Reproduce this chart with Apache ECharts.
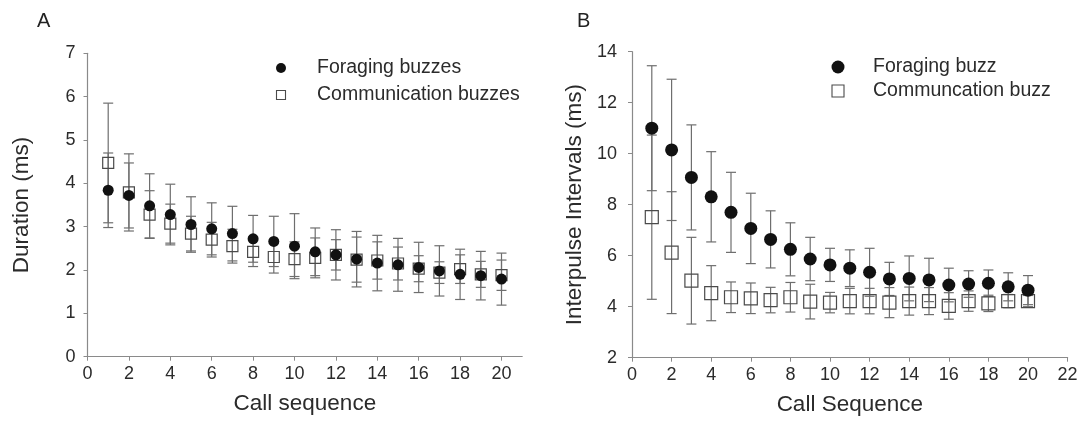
<!DOCTYPE html>
<html>
<head>
<meta charset="utf-8">
<script src="https://cdn.jsdelivr.net/npm/echarts@6/dist/echarts.min.js"></script>
<style>
  html, body { margin: 0; padding: 0; background: #ffffff; }
  #chart { width: 1084px; height: 441px; }
</style>
</head>
<body>
<div id="chart"></div>
<script>
// Call position within the buzz (1..20)
const callSequence = [1, 2, 3, 4, 5, 6, 7, 8, 9, 10, 11, 12, 13, 14, 15, 16, 17, 18, 19, 20];

// Panel A: call duration (ms), mean and SD
const durForagingMean = [3.84, 3.72, 3.48, 3.28, 3.05, 2.95, 2.84, 2.72, 2.66, 2.55, 2.42, 2.35, 2.25, 2.16, 2.12, 2.06, 1.98, 1.90, 1.87, 1.79];
const durForagingSd   = [0.86, 0.75, 0.74, 0.70, 0.64, 0.60, 0.63, 0.54, 0.58, 0.75, 0.55, 0.58, 0.64, 0.64, 0.61, 0.58, 0.58, 0.58, 0.56, 0.60];
const durCommMean     = [4.47, 3.79, 3.28, 3.07, 2.84, 2.70, 2.55, 2.42, 2.30, 2.25, 2.28, 2.35, 2.24, 2.22, 2.15, 2.03, 1.94, 2.02, 1.90, 1.88];
const durCommSd       = [1.38, 0.89, 0.55, 0.45, 0.40, 0.40, 0.39, 0.34, 0.37, 0.40, 0.46, 0.35, 0.52, 0.43, 0.38, 0.30, 0.25, 0.33, 0.30, 0.35];

// Panel B: interpulse interval (ms), mean and SD
const ipiForagingMean = [11.0, 10.15, 9.07, 8.31, 7.70, 7.07, 6.64, 6.25, 5.87, 5.64, 5.51, 5.35, 5.09, 5.11, 5.05, 4.85, 4.89, 4.92, 4.78, 4.65];
const ipiForagingSd   = [2.45, 2.77, 2.06, 1.77, 1.57, 1.38, 1.12, 1.04, 0.85, 0.65, 0.72, 0.94, 0.65, 0.88, 0.85, 0.66, 0.52, 0.52, 0.55, 0.57];
const ipiCommMean     = [7.51, 6.12, 5.02, 4.53, 4.37, 4.33, 4.26, 4.37, 4.20, 4.16, 4.22, 4.22, 4.16, 4.22, 4.22, 4.03, 4.22, 4.13, 4.22, 4.22];
const ipiCommSd       = [3.22, 2.39, 1.70, 1.08, 0.60, 0.60, 0.50, 0.58, 0.68, 0.40, 0.50, 0.50, 0.59, 0.55, 0.53, 0.52, 0.40, 0.32, 0.26, 0.22];

// Axis ranges and tick steps
const axisA = { xMin: 0, xMax: 21, xStep: 2, yMin: 0, yMax: 7, yStep: 1 };
const axisB = { xMin: 0, xMax: 22, xStep: 2, yMin: 2, yMax: 14, yStep: 2 };

// Text
const panelLabels = ['A', 'B'];
const xTitles = ['Call sequence', 'Call Sequence'];
const yTitles = ['Duration (ms)', 'Interpulse Intervals (ms)'];
const namesA = ['Foraging buzzes', 'Communication buzzes'];
const namesB = ['Foraging buzz', 'Communcation buzz'];

const FONT = "'Liberation Sans', Arial, sans-serif";
const TEXT = '#2b2b2b';
const AXIS = '#8a8a8a';
const BAR = '#6e6e6e';

const points = (means) => callSequence.map((x, i) => [x, means[i]]);
const ranges = (means, sds) => callSequence.map((x, i) => [x, means[i] - sds[i], means[i] + sds[i]]);

function errorBar(params, api) {
  const x = api.value(0);
  const lo = api.coord([x, api.value(1)]);
  const hi = api.coord([x, api.value(2)]);
  const w = 5;
  const style = { stroke: api.visual('color'), lineWidth: 1.2 };
  return {
    type: 'group',
    children: [
      { type: 'line', shape: { x1: lo[0], y1: lo[1], x2: hi[0], y2: hi[1] }, style },
      { type: 'line', shape: { x1: lo[0] - w, y1: lo[1], x2: lo[0] + w, y2: lo[1] }, style },
      { type: 'line', shape: { x1: hi[0] - w, y1: hi[1], x2: hi[0] + w, y2: hi[1] }, style }
    ]
  };
}

function xAxis(idx, a, title, showMax) {
  return {
    type: 'value', gridIndex: idx, min: a.xMin, max: a.xMax, interval: a.xStep,
    name: title, nameLocation: 'middle', nameGap: 36,
    nameTextStyle: { fontFamily: FONT, fontSize: 22.5, color: TEXT },
    axisLine: { show: true, onZero: false, lineStyle: { color: AXIS, width: 1.2 } },
    axisTick: { show: true, length: 4, lineStyle: { color: AXIS } },
    axisLabel: { fontFamily: FONT, fontSize: 18, color: TEXT, margin: 8, showMaxLabel: showMax },
    splitLine: { show: false }
  };
}

function yAxis(idx, a, title, gap, margin) {
  return {
    type: 'value', gridIndex: idx, min: a.yMin, max: a.yMax, interval: a.yStep,
    name: title, nameLocation: 'middle', nameGap: gap, nameRotate: 90,
    nameTextStyle: { fontFamily: FONT, fontSize: 22.5, color: TEXT },
    axisLine: { show: true, onZero: false, lineStyle: { color: AXIS, width: 1.2 } },
    axisTick: { show: true, length: 4, lineStyle: { color: AXIS } },
    axisLabel: { fontFamily: FONT, fontSize: 18, color: TEXT, margin: margin },
    splitLine: { show: false }
  };
}

function panelSeries(idx, names, fMean, fSd, cMean, cSd, size) {
  return [
    { type: 'custom', xAxisIndex: idx, yAxisIndex: idx, renderItem: errorBar,
      itemStyle: { color: BAR }, data: ranges(cMean, cSd), z: 1, silent: true },
    { type: 'custom', xAxisIndex: idx, yAxisIndex: idx, renderItem: errorBar,
      itemStyle: { color: BAR }, data: ranges(fMean, fSd), z: 1, silent: true },
    { name: names[1], type: 'scatter', xAxisIndex: idx, yAxisIndex: idx,
      symbol: 'rect', symbolSize: size,
      itemStyle: { color: 'rgba(255,255,255,0)', borderColor: '#4a4a4a', borderWidth: 1.2, opacity: 1 },
      data: points(cMean), z: 2 },
    { name: names[0], type: 'scatter', xAxisIndex: idx, yAxisIndex: idx,
      symbol: 'circle', symbolSize: size,
      itemStyle: { color: '#111111', opacity: 1 },
      data: points(fMean), z: 3 }
  ];
}

function legendGraphics(cx, cy, gap, r, sq, textX, names) {
  const style = { font: '19.5px ' + FONT, fill: TEXT, textVerticalAlign: 'middle' };
  return [
    { type: 'circle', shape: { cx: cx, cy: cy, r: r }, style: { fill: '#111111' } },
    { type: 'rect', shape: { x: cx - sq / 2, y: cy + gap - sq / 2, width: sq, height: sq },
      style: { fill: 'none', stroke: '#4a4a4a', lineWidth: 1.1 } },
    { type: 'text', x: textX, y: cy, style: Object.assign({ text: names[0] }, style) },
    { type: 'text', x: textX, y: cy + gap, style: Object.assign({ text: names[1] }, style) }
  ];
}

const chart = echarts.init(document.getElementById('chart'), null, { renderer: 'canvas' });

chart.setOption({
  animation: false,
  backgroundColor: '#ffffff',
  grid: [
    { left: 87.5, top: 53.3, width: 434.7, height: 303.4 },
    { left: 632, top: 51.7, width: 435.6, height: 306 }
  ],
  xAxis: [xAxis(0, axisA, xTitles[0], false), xAxis(1, axisB, xTitles[1], true)],
  yAxis: [yAxis(0, axisA, yTitles[0], 54, 12), yAxis(1, axisB, yTitles[1], 46, 15)],
  series: [].concat(
    panelSeries(0, namesA, durForagingMean, durForagingSd, durCommMean, durCommSd, 11),
    panelSeries(1, namesB, ipiForagingMean, ipiForagingSd, ipiCommMean, ipiCommSd, 13)
  ),
  graphic: [].concat(
    [
      { type: 'text', x: 37, y: 21, style: { text: panelLabels[0], font: '20px ' + FONT, fill: '#222', textVerticalAlign: 'middle' } },
      { type: 'text', x: 577, y: 21, style: { text: panelLabels[1], font: '20px ' + FONT, fill: '#222', textVerticalAlign: 'middle' } }
    ],
    legendGraphics(281, 68, 27, 5, 9, 317, namesA),
    legendGraphics(838, 67, 24, 6.5, 12, 873, namesB)
  )
});
</script>
</body>
</html>
